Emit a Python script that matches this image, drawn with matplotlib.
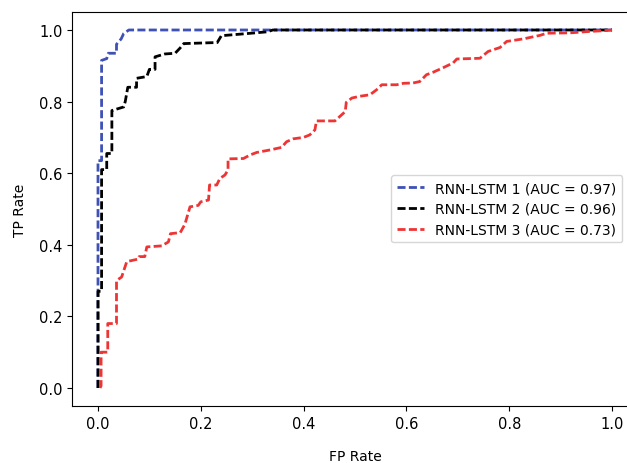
from matplotlib import pyplot as plt

# ROC curve corner points
fpr_1 = [0.0, 0.0, 0.007, 0.007, 0.017, 0.02, 0.036, 0.036, 0.045, 0.05, 0.06, 1.0]
tpr_1 = [0.0, 0.635, 0.635, 0.915, 0.92, 0.935, 0.935, 0.96, 0.975, 0.99, 1.0, 1.0]

fpr_2 = [0.0, 0.0, 0.007, 0.007, 0.017, 0.017, 0.027, 0.027, 0.05, 0.053, 0.058, 0.075,
         0.075, 0.095, 0.1, 0.111, 0.111, 0.13, 0.15, 0.16, 0.167, 0.232, 0.24, 0.29,
         0.33, 0.34, 1.0]
tpr_2 = [0.0, 0.27, 0.27, 0.61, 0.61, 0.655, 0.655, 0.775, 0.785, 0.80, 0.84, 0.84,
         0.865, 0.87, 0.89, 0.89, 0.925, 0.933, 0.935, 0.95, 0.962, 0.965, 0.984, 0.99,
         0.995, 1.0, 1.0]

fpr_3 = [0.004, 0.006, 0.006, 0.019, 0.019, 0.036, 0.036, 0.046, 0.056, 0.078, 0.08, 0.091,
         0.095, 0.124, 0.137, 0.141, 0.16, 0.169, 0.179, 0.195, 0.2, 0.215, 0.217, 0.231,
         0.237, 0.247, 0.253, 0.253, 0.283, 0.296, 0.309, 0.335, 0.357, 0.367, 0.38, 0.4,
         0.412, 0.422, 0.425, 0.461, 0.474, 0.481, 0.483, 0.494, 0.51, 0.529, 0.542, 0.552,
         0.581, 0.594, 0.613, 0.626, 0.639, 0.652, 0.672, 0.691, 0.698, 0.743, 0.759,
         0.782, 0.795, 0.827, 0.86, 0.873, 0.918, 0.957, 0.983, 1.0]
tpr_3 = [0.0, 0.006, 0.10, 0.10, 0.18, 0.18, 0.30, 0.31, 0.353, 0.36, 0.367, 0.367,
         0.394, 0.397, 0.408, 0.431, 0.434, 0.457, 0.506, 0.51, 0.52, 0.525, 0.567, 0.567,
         0.585, 0.595, 0.609, 0.64, 0.641, 0.651, 0.658, 0.665, 0.672, 0.688, 0.696, 0.70,
         0.707, 0.721, 0.746, 0.746, 0.763, 0.772, 0.798, 0.81, 0.815, 0.819, 0.833, 0.847,
         0.847, 0.851, 0.852, 0.856, 0.875, 0.882, 0.895, 0.908, 0.919, 0.921, 0.94,
         0.951, 0.968, 0.975, 0.985, 0.991, 0.992, 0.996, 0.998, 1.0]

labels = ["RNN-LSTM 1 (AUC = 0.97)", "RNN-LSTM 2 (AUC = 0.96)", "RNN-LSTM 3 (AUC = 0.73)"]
colors = ["#3f51b5", "black", "#ee3535"]

DPI = 100
fig = plt.figure(figsize=(627 / DPI, 464 / DPI), dpi=DPI)
# right edge of the axes sits just past the image edge, as in the reference
ax = fig.add_axes([0.1153, 0.1231, 0.9018, 0.8487])

curves = [(fpr_1, tpr_1), (fpr_2, tpr_2), (fpr_3, tpr_3)]
for (fpr, tpr), label, color in zip(curves, labels, colors):
    ax.plot(fpr, tpr, linestyle="--", dashes=(2.9, 1.2), color=color,
            linewidth=2, label=label)

ax.tick_params(labelsize=10.5)
ax.set_xlabel("FP Rate", labelpad=13)
ax.set_ylabel("TP Rate", labelpad=9)
ax.legend(loc="center right", bbox_to_anchor=(0.985, 0.5))

fig.savefig("out.png", dpi=DPI)
